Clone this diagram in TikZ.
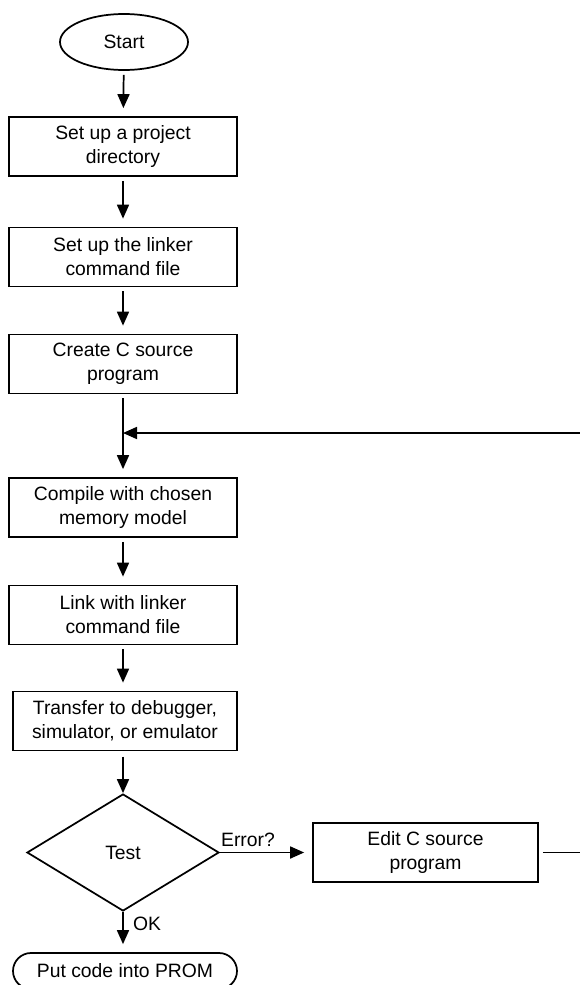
\documentclass[tikz,border=0pt]{standalone}
\usepackage{fontspec}
\setmainfont{Liberation Sans}
\usetikzlibrary{arrows.meta,shapes.geometric}

\tikzset{
	box/.style={draw, line width=1.3pt, minimum width=171pt, minimum height=44.25pt, inner sep=0pt, align=center},
	flow/.style={line width=1.3pt, -{Triangle[length=10.5pt,width=9pt]}, shorten >=6pt, shorten <=3pt},
}

\begin{document}
\begin{tikzpicture}[x=0.75pt,y=0.75pt,yscale=-1,xscale=1,font=\fontsize{14.5}{18}\selectfont]
	\useasboundingbox (0,0) rectangle (579,985);
	
	%Shape: Ellipse
	\node [draw, ellipse, line width=1.3pt, minimum width=96pt, minimum height=42pt, inner sep=0pt] (start) at (124,42) {Start};
	
	%Shape: Rectangle
	\node [box] (setup) at (123,146.5) {Set up a project\\directory};
	%Shape: Rectangle
	\node [box] (linkfile) at (123,257) {Set up the linker\\command file};
	%Shape: Rectangle
	\node [box] (source) at (123,364) {Create C source\\program};
	%Shape: Rectangle
	\node [box] (compile) at (123,507.5) {Compile with chosen\\memory model};
	%Shape: Rectangle
	\node [box] (link) at (123,615) {Link with linker\\command file};
	%Shape: Rectangle
	\node [box, minimum width=168pt] (transfer) at (125,721) {Transfer to debugger,\\simulator, or emulator};
	
	%Shape: Diamond
	\node [draw, diamond, line width=1.3pt, minimum width=144pt, minimum height=87.75pt, inner sep=0pt] (test) at (123,852.5) {Test};
	%Shape: Rectangle
	\node [box, minimum width=168.75pt] (edit) at (425.5,852.5) {Edit C source\\program};
	%Shape: Rounded Rectangle
	\node [draw, rounded corners=13.5pt, line width=1.3pt, minimum width=168pt, minimum height=27pt, inner sep=0pt] (prom) at (125,971) {Put code into PROM};
	
	\coordinate (fbR) at (581,852.5);
	\coordinate (fbT) at (581,433);
	\coordinate (merge) at (123,433);
	
	%Straight Lines
	\draw [flow] (start) -- (setup);
	\draw [flow] (setup) -- (linkfile);
	\draw [flow] (linkfile) -- (source);
	\draw [flow] (source) -- (compile);
	\draw [flow] (compile) -- (link);
	\draw [flow] (link) -- (link |- transfer.north);
	\draw [flow, shorten >=0pt, shorten <=4pt] (transfer.south -| test) -- (test);
	\draw [flow, shorten <=0pt] (test) -- (edit);
	\draw [flow, shorten <=0pt] (test) -- (test |- prom.north);
	
	%Straight Lines
	\draw [flow, shorten >=0pt] (edit) -- (fbR) -- (fbT) -- (merge);
	
	% Text Node
	\draw (248,840) node (errlbl) {Error?};
	% Text Node
	\draw (147,924) node (oklbl) {OK};
\end{tikzpicture}
\end{document}
